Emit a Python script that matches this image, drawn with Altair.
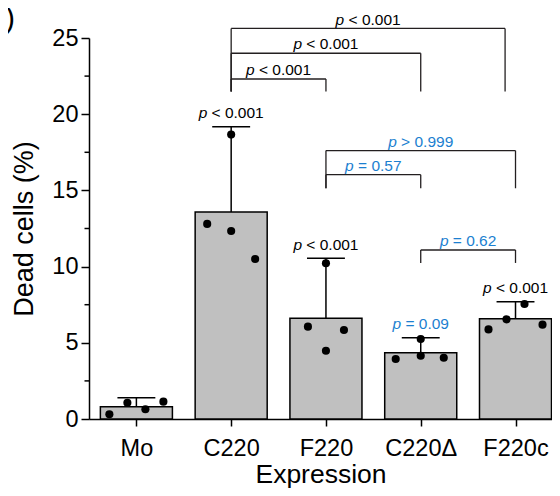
import altair as alt
import pandas as pd

# ---------------- data ----------------
categories = ["Mo", "C220", "F220", "C220Δ", "F220c"]
means = [0.81, 13.58, 6.61, 4.35, 6.58]
sds = [0.59, 5.60, 3.93, 0.98, 1.12]

point_group = [0, 0, 0, 0, 1, 1, 1, 1, 2, 2, 2, 2, 3, 3, 3, 3, 4, 4, 4, 4]
point_values = [0.31, 1.07, 0.64, 1.14,
                12.80, 18.66, 12.34, 10.50,
                6.06, 10.22, 4.48, 5.84,
                3.94, 5.25, 4.15, 4.02,
                5.88, 6.54, 7.55, 6.19]
point_jitter = [-0.285, -0.095, 0.095, 0.285,
                -0.253, 0.0, 0.0, 0.253,
                -0.19, 0.0, 0.0, 0.19,
                -0.264, 0.0, 0.0, 0.243,
                -0.285, -0.095, 0.095, 0.285]

# comparison brackets (category index from, to), level and foot of the bracket
bracket_from = [1, 1, 1, 2, 2, 3]
bracket_to = [3.89, 3, 2, 4, 3, 4]
bracket_level = [25.63, 24.0, 22.31, 17.61, 16.03, 11.09]
bracket_foot = [21.49, 21.49, 21.49, 15.14, 15.14, 10.24]
bracket_text = ["< 0.001", "< 0.001", "< 0.001", "> 0.999", "= 0.57", "= 0.62"]
bracket_blue = [False, False, False, True, True, True]

# per-bar p values (vs Mo)
bar_text = [None, "< 0.001", "< 0.001", "= 0.09", "< 0.001"]
bar_blue = [False, False, False, True, False]

y_ticks = [0, 5, 10, 15, 20, 25]
y_minor = [2.5, 7.5, 12.5, 17.5, 22.5]

# ---------------- layout ----------------
FONT = "Liberation Sans"
BLACK = "#000000"
LINE = "#231f20"
BLUE = "#1c7fd0"
W, H = 463, 381
X_DOMAIN = [-0.5, 4.385]
PX_PER_UNIT = W / (X_DOMAIN[1] - X_DOMAIN[0])
ANN_SIZE = 15.5
BAR_HALF = 0.38
CAP_HALF = 0.2

ARIAL = {"p": 0.556, " ": 0.278, "<": 0.584, ">": 0.584, "=": 0.584, ".": 0.278}
SPACE = ARIAL[" "] * ANN_SIZE


def text_width(s, size):
    return sum(ARIAL.get(ch, 0.556) for ch in s) * size


xs = list(range(len(categories)))
bars = pd.DataFrame({
    "cat": categories,
    "x": xs,
    "x_lo": [i - BAR_HALF for i in xs],
    "x_hi": [i + BAR_HALF for i in xs],
    "cap_lo": [i - CAP_HALF for i in xs],
    "cap_hi": [i + CAP_HALF for i in xs],
    "mean": means,
    "top": [m + s for m, s in zip(means, sds)],
})

points = pd.DataFrame({
    "x": [g + j for g, j in zip(point_group, point_jitter)],
    "v": point_values,
})

seg_rows = []
for a, b, lv, ft in zip(bracket_from, bracket_to, bracket_level, bracket_foot):
    seg_rows.append({"x": a, "x2": b, "y": lv, "y2": lv})
    seg_rows.append({"x": a, "x2": a, "y": lv, "y2": ft})
    seg_rows.append({"x": b, "x2": b, "y": lv, "y2": ft})
segs = pd.DataFrame(seg_rows)


def ann_rows(centers, ys, texts, blues):
    rows = []
    for c, y, t, bl in zip(centers, ys, texts, blues):
        if t is None:
            continue
        wp = text_width("p", ANN_SIZE)
        wr = text_width(t, ANN_SIZE)
        anchor = c + (wp - SPACE - wr) / 2 / PX_PER_UNIT
        rows.append({"x": anchor, "y": y, "rest": t,
                     "color": BLUE if bl else BLACK})
    return pd.DataFrame(rows)


br_ann = ann_rows([(a + b) / 2 for a, b in zip(bracket_from, bracket_to)],
                  bracket_level, bracket_text, bracket_blue)
bar_ann = ann_rows(xs, [m + s for m, s in zip(means, sds)], bar_text, bar_blue)

xscale = alt.Scale(domain=X_DOMAIN, nice=False, zero=False)
yscale = alt.Scale(domain=[0, 25], nice=False)

label_expr = "[" + ",".join("'%s'" % c for c in categories) + "][datum.value]"

x_axis = alt.Axis(values=xs, labelExpr=label_expr, title="Expression",
                  grid=False, tickSize=7, tickWidth=1.5, tickColor=BLACK,
                  domainColor=BLACK, domainWidth=1.5, labelFontSize=23.5,
                  labelPadding=10, labelColor=BLACK, labelFont=FONT,
                  titleFont=FONT, titleFontSize=26.5, titleFontWeight="normal",
                  titleColor=BLACK, titlePadding=2)
y_axis = alt.Axis(values=y_ticks, title="Dead cells (%)", grid=False,
                  tickSize=8, tickWidth=1.5, tickColor=BLACK, domainColor=BLACK,
                  domainWidth=1.5, labelFontSize=23.5, labelPadding=3,
                  labelColor=BLACK, labelFont=FONT, titleFont=FONT,
                  titleFontSize=27, titleFontWeight="normal", titleColor=BLACK,
                  titlePadding=13)

bar_layer = alt.Chart(bars).mark_bar(fill="#c0c0c0", stroke=BLACK, strokeWidth=1.5).encode(
    x=alt.X("x_lo:Q", scale=xscale, axis=x_axis),
    x2="x_hi:Q",
    y=alt.Y("mean:Q", scale=yscale, axis=y_axis),
    y2=alt.datum(0),
)

err_layer = alt.Chart(bars).mark_rule(color=BLACK, strokeWidth=1.5).encode(
    x="x:Q", y="mean:Q", y2="top:Q")
cap_layer = alt.Chart(bars).mark_rule(color=BLACK, strokeWidth=1.5).encode(
    x="cap_lo:Q", x2="cap_hi:Q", y="top:Q")

pt_layer = alt.Chart(points).mark_circle(color=BLACK, opacity=1, size=66).encode(
    x="x:Q", y="v:Q")

minor_layer = alt.Chart(pd.DataFrame({"v": y_minor})).mark_rule(
    color=BLACK, strokeWidth=1.5).encode(
    x=alt.value(-4.5), x2=alt.value(0), y="v:Q")

seg_layer = alt.Chart(segs).mark_rule(color=LINE, strokeWidth=1.3).encode(
    x="x:Q", x2="x2:Q", y="y:Q", y2="y2:Q")


def text_layers(df, dy):
    p = alt.Chart(df).mark_text(align="right", baseline="alphabetic", dy=dy,
                                font=FONT, fontSize=ANN_SIZE, fontStyle="italic").encode(
        x="x:Q", y="y:Q", text=alt.value("p"),
        color=alt.Color("color:N", scale=None))
    r = alt.Chart(df).mark_text(align="left", baseline="alphabetic", dy=dy, dx=SPACE,
                                font=FONT, fontSize=ANN_SIZE).encode(
        x="x:Q", y="y:Q", text="rest:N",
        color=alt.Color("color:N", scale=None))
    return [p, r]


panel_label = alt.Chart(pd.DataFrame({"t": ["E)"]})).mark_text(
    align="right", baseline="alphabetic", font=FONT, fontSize=30, color=BLACK).encode(
    x=alt.value(-74), y=alt.value(-10), text="t:N")

chart = alt.layer(
    bar_layer, err_layer, cap_layer, pt_layer, minor_layer, seg_layer,
    *text_layers(br_ann, -3.8), *text_layers(bar_ann, -8.5), panel_label,
).properties(
    width=W, height=H,
    background="white",
    autosize=alt.AutoSizeParams(type="none"),
    padding={"left": 81, "top": 30, "right": 0, "bottom": 69},
).configure_view(strokeWidth=0).configure_axis(grid=False)

chart.save("out.html", embed_options={"renderer": "svg", "actions": False})
